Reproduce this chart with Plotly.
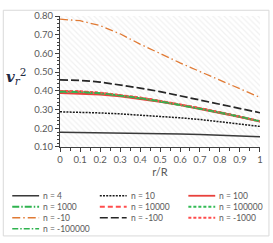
import plotly.graph_objects as go

# ---- data ----
r_over_R = [0.0, 0.1, 0.2, 0.3, 0.4, 0.5, 0.6, 0.7, 0.8, 0.9, 1.0]

series_names = ["n = 4", "n = 10", "n = 100", "n = 1000", "n = 10000",
                "n = 100000", "n = -10", "n = -100", "n = -1000", "n = -100000"]

v_n4 = [0.179, 0.178, 0.177, 0.176, 0.174, 0.172, 0.170, 0.167, 0.164, 0.160, 0.155]
v_n10 = [0.288, 0.286, 0.282, 0.277, 0.271, 0.264, 0.256, 0.247, 0.236, 0.224, 0.210]
v_n100 = [0.389, 0.387, 0.381, 0.371, 0.358, 0.342, 0.324, 0.304, 0.283, 0.260, 0.236]
v_n1000 = [0.396, 0.394, 0.387, 0.376, 0.361, 0.344, 0.325, 0.305, 0.284, 0.261, 0.237]
v_n10000 = [0.398, 0.396, 0.389, 0.378, 0.363, 0.346, 0.327, 0.307, 0.285, 0.262, 0.238]
v_n100000 = [0.397, 0.395, 0.388, 0.377, 0.362, 0.345, 0.326, 0.306, 0.285, 0.262, 0.237]
v_nm10 = [0.783, 0.775, 0.749, 0.705, 0.650, 0.598, 0.550, 0.503, 0.457, 0.411, 0.365]
v_nm100 = [0.459, 0.456, 0.447, 0.433, 0.415, 0.396, 0.374, 0.352, 0.330, 0.307, 0.283]
v_nm1000 = [0.400, 0.398, 0.391, 0.380, 0.365, 0.347, 0.328, 0.308, 0.286, 0.263, 0.238]
v_nm100000 = [0.397, 0.395, 0.388, 0.377, 0.362, 0.345, 0.326, 0.306, 0.285, 0.262, 0.237]

series_values = [v_n4, v_n10, v_n100, v_n1000, v_n10000,
                 v_n100000, v_nm10, v_nm100, v_nm1000, v_nm100000]

x_ticks = [0, 0.1, 0.2, 0.3, 0.4, 0.5, 0.6, 0.7, 0.8, 0.9, 1]
x_tick_labels = ["0", "0.1", "0.2", "0.3", "0.4", "0.5", "0.6", "0.7", "0.8", "0.9", "1"]
y_ticks = [0.10, 0.20, 0.30, 0.40, 0.50, 0.60, 0.70, 0.80]
y_range = [0.10, 0.80]
x_range = [0, 1]

# ---- styles ----
styles = [
    dict(color="#3a3a3a", width=1.5, dash="solid"),
    dict(color="#1a1a1a", width=1.5, dash="2px,1.2px"),
    dict(color="#e8413c", width=2.0, dash="solid"),
    dict(color="#2fb34f", width=2.0, dash="7px,2px,1.5px,2px"),
    dict(color="#ff4d4d", width=2.0, dash="5px,3px"),
    dict(color="#33bb55", width=2.0, dash="3px,2px"),
    dict(color="#e07a34", width=1.3, dash="8px,3px,1.5px,3px"),
    dict(color="#262626", width=1.7, dash="8px,3px"),
    dict(color="#ff4d4d", width=1.8, dash="3px,2px"),
    dict(color="#2fb34f", width=1.5, dash="6px,2px,1.5px,2px"),
]

W, H = 273, 243
ML, MR, MT, MB = 60, 12, 10, 96
PW, PH = W - ML - MR, H - MT - MB
EPS = 1e-4


def px_x(px):
    return (px - ML) / PW


def px_y(py):
    return (H - MB - py) / PH


fig = go.Figure()

# hatched plot-area background
fig.add_trace(go.Scatter(
    x=[x_range[0], x_range[1], x_range[1], x_range[0], x_range[0]],
    y=[y_range[0], y_range[0], y_range[1], y_range[1], y_range[0]],
    mode="lines", fill="toself", line=dict(width=0), fillcolor="white",
    fillpattern=dict(shape="\\", fgcolor="#e3e3e3", bgcolor="white", size=4, solidity=0.3),
    hoverinfo="skip", showlegend=False))

for name, vals, st in zip(series_names, series_values, styles):
    fig.add_trace(go.Scatter(x=r_over_R, y=vals, mode="lines", name=name,
                             line=dict(color=st["color"], width=st["width"], dash=st["dash"]),
                             showlegend=False))

font_family = "Lato, Liberation Sans, Arial, sans-serif"

fig.update_layout(
    width=W, height=H,
    margin=dict(l=ML, r=MR, t=MT, b=MB),
    paper_bgcolor="white", plot_bgcolor="white",
    font=dict(family=font_family, size=9, color="#595959"),
    showlegend=False,
    xaxis=dict(range=[x_range[0] - EPS, x_range[1] + EPS], tickmode="array",
               tickvals=x_ticks, ticktext=x_tick_labels,
               showgrid=True, gridcolor="#d6d6d6", gridwidth=1,
               showline=True, linecolor="#404040", linewidth=1,
               ticks="outside", ticklen=4, tickcolor="#404040",
               minor=dict(dtick=0.05, ticks="outside", ticklen=3, tickcolor="#404040", showgrid=False),
               tickfont=dict(size=9.5, color="#595959"), zeroline=False,
               title=dict(text="r/R", font=dict(size=11, color="#595959"), standoff=2)),
    yaxis=dict(range=[y_range[0] - EPS, y_range[1] + EPS], tickmode="array",
               tickvals=y_ticks, ticktext=["%.2f" % v for v in y_ticks],
               showgrid=True, gridcolor="#d6d6d6", gridwidth=1,
               showline=True, linecolor="#404040", linewidth=1,
               ticks="outside", ticklen=4, tickcolor="#404040",
               minor=dict(dtick=0.02, ticks="outside", ticklen=2.5, tickcolor="#404040", showgrid=False),
               tickfont=dict(size=9.5, color="#595959"), zeroline=False),
)

# y-axis title
fig.add_annotation(xref="paper", yref="paper", x=px_x(16), y=px_y(73),
                   text="<b><i>v</i></b><sub><i>r</i></sub><sup>2</sup>",
                   showarrow=False, xanchor="center", yanchor="middle",
                   font=dict(family="DejaVu Serif, Liberation Serif, serif", size=15, color="#1f2a44"))

# outer chart border
fig.add_shape(type="rect", xref="paper", yref="paper",
              x0=px_x(3), x1=px_x(270), y0=px_y(240), y1=px_y(4),
              line=dict(color="#d9d9d9", width=1), layer="below")

# manual legend (3 columns)
col_x = [12, 100, 189]
row_y = [198, 209.5, 221, 232.5]
for i, (name, st) in enumerate(zip(series_names, styles)):
    c, rr = i % 3, i // 3
    x0 = col_x[c]
    y = row_y[rr]
    fig.add_shape(type="line", xref="paper", yref="paper",
                  x0=px_x(x0), x1=px_x(x0 + 27), y0=px_y(y), y1=px_y(y),
                  line=dict(color=st["color"], width=min(st["width"], 1.8), dash=st["dash"]))
    fig.add_annotation(xref="paper", yref="paper", x=px_x(x0 + 29), y=px_y(y),
                       text=name, showarrow=False, xanchor="left", yanchor="middle",
                       font=dict(size=8.5, color="#595959"))

fig.write_html("out.html", config={"displayModeBar": False},
               post_script="document.body.style.margin='0px';document.body.style.overflow='hidden';")
